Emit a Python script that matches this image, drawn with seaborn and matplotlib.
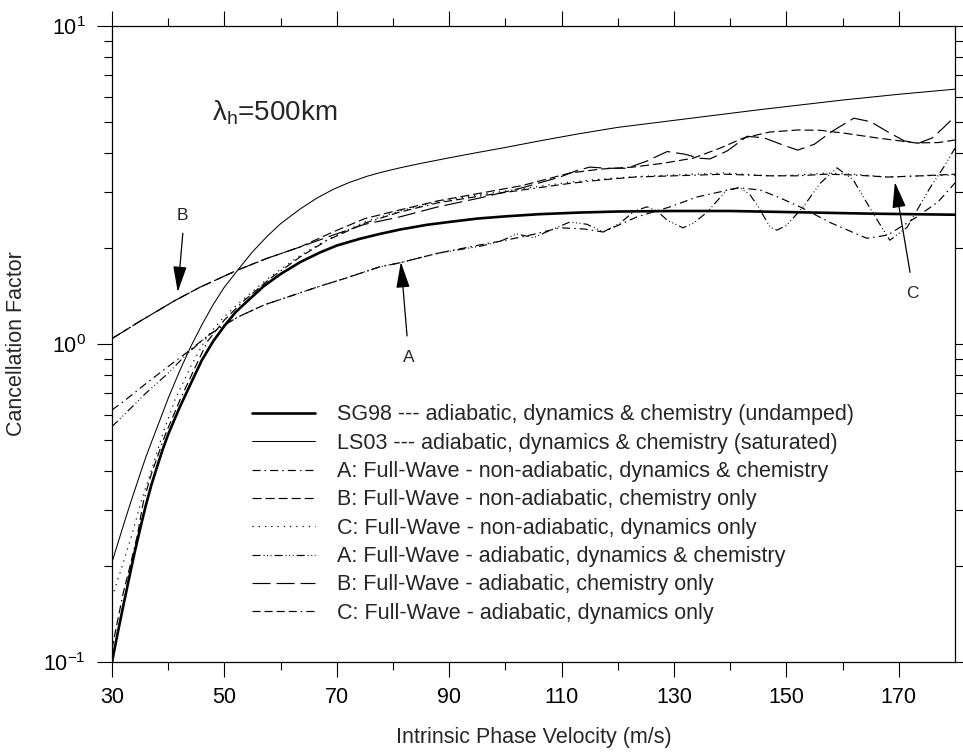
import matplotlib
matplotlib.use("Agg")
import matplotlib.pyplot as plt
from matplotlib.ticker import FixedLocator, LogLocator, NullFormatter
import seaborn as sns

# ---- curves: intrinsic phase velocity (m/s) vs cancellation factor ----
SG98_V = [30, 31, 32, 33, 34, 35, 36, 37, 38, 39, 40, 42, 44, 46, 48, 50, 52, 54.4, 57, 60,
          63.5, 67, 70, 74, 77.7, 81.2, 86, 90, 95, 100, 106, 113, 120, 130, 140, 150, 165, 180]
SG98 = [0.100, 0.123, 0.150, 0.182, 0.220, 0.262, 0.310, 0.360, 0.410, 0.465, 0.520, 0.630,
        0.750, 0.890, 1.02, 1.14, 1.26, 1.38, 1.52, 1.66, 1.81, 1.94, 2.04, 2.14, 2.22, 2.29,
        2.37, 2.42, 2.48, 2.52, 2.56, 2.59, 2.61, 2.62, 2.62, 2.60, 2.57, 2.55]

LS03_V = [30, 31, 32, 33, 34, 35, 36, 37, 38, 40, 42, 44, 46, 48, 50, 52.4, 55, 57.6, 60,
          63.5, 66.5, 69.3, 72, 75.4, 78, 81.2, 85, 90, 95, 100, 106, 113, 120, 130, 145,
          160, 170, 180]
LS03 = [0.206, 0.235, 0.268, 0.305, 0.345, 0.390, 0.440, 0.490, 0.545, 0.675, 0.82, 0.98,
        1.15, 1.33, 1.51, 1.71, 1.95, 2.18, 2.39, 2.66, 2.88, 3.06, 3.21, 3.37, 3.47, 3.58,
        3.70, 3.85, 4.00, 4.15, 4.35, 4.58, 4.80, 5.05, 5.45, 5.85, 6.10, 6.33]

A_NA_V = [30, 33, 36, 40, 43.3, 47, 50, 53, 57.2, 61, 66.5, 72, 77.7, 81.2, 88, 95.5, 100,
          104.4, 109.7, 114, 117.4, 123.4, 129.3, 134.1, 141.5, 145.3, 148.5, 152.4, 158,
          164.3, 168, 173.2, 177, 180]
A_NA = [0.62, 0.68, 0.75, 0.85, 0.94, 1.06, 1.15, 1.23, 1.33, 1.40, 1.51, 1.62, 1.75, 1.80,
        1.93, 2.05, 2.12, 2.20, 2.32, 2.30, 2.25, 2.51, 2.70, 2.90, 3.10, 3.05, 2.90, 2.70,
        2.40, 2.15, 2.20, 2.51, 2.80, 3.21]

B_NA_V = [30, 35, 41.2, 45.7, 52.4, 57.6, 63.5, 69.3, 75, 81.2, 88, 95.5, 103, 111.5, 117,
          122.7, 128, 133.4, 138.2, 142.3, 147, 152, 156, 160, 166, 173, 177, 180]
B_NA = [1.04, 1.18, 1.37, 1.51, 1.71, 1.86, 2.02, 2.25, 2.48, 2.64, 2.82, 2.98, 3.15, 3.45,
        3.55, 3.60, 3.70, 3.84, 4.13, 4.44, 4.64, 4.71, 4.70, 4.61, 4.45, 4.29, 4.30, 4.38]

C_NA_V = [30, 32, 33.5, 35.2, 37, 39, 41.2, 44, 47, 50, 53.3, 58, 63.5, 68.3, 75, 81.2, 88,
          95.5, 103, 111.5, 117, 123, 130, 139, 147, 152, 157, 162, 168, 174, 180]
C_NA = [0.16, 0.205, 0.25, 0.32, 0.40, 0.52, 0.667, 0.85, 1.06, 1.22, 1.38, 1.62, 1.90, 2.13,
        2.42, 2.62, 2.80, 2.95, 3.08, 3.23, 3.30, 3.36, 3.40, 3.45, 3.38, 3.40, 3.45, 3.42,
        3.35, 3.38, 3.40]

A_AD_V = [30, 33, 36, 40, 43.3, 47, 50, 53, 57.2, 61, 66.5, 72, 77.7, 81.2, 88, 95.5, 99,
          102, 105, 108, 111.5, 114.5, 117.4, 120.4, 123, 125.2, 127, 128.8, 131.6, 133.5,
          135.9, 139.4, 141.7, 143.5, 145, 147.1, 148.3, 150, 153, 156, 159, 161.9, 165.4,
          168.4, 171.5, 175.6, 178, 180]
A_AD = [0.55, 0.62, 0.70, 0.81, 0.93, 1.06, 1.15, 1.23, 1.33, 1.40, 1.51, 1.62, 1.75, 1.80,
        1.93, 2.03, 2.10, 2.22, 2.16, 2.28, 2.42, 2.38, 2.25, 2.40, 2.62, 2.70, 2.62, 2.45,
        2.32, 2.40, 2.60, 3.05, 3.10, 2.95, 2.70, 2.33, 2.28, 2.36, 2.70, 3.20, 3.58, 3.28,
        2.58, 2.12, 2.33, 3.11, 3.60, 4.13]

B_AD_V = [30, 35, 41.2, 45.7, 52.4, 57.6, 63.5, 69.3, 75, 81.2, 88, 95.5, 103, 109.7, 112.5,
          115, 118, 121.6, 125, 128.8, 132, 134.5, 136.4, 139.5, 143, 146, 149, 152, 155,
          158, 162, 165, 168, 171, 173.5, 176, 178, 180]
B_AD = [1.04, 1.18, 1.37, 1.51, 1.71, 1.86, 2.02, 2.20, 2.38, 2.51, 2.70, 2.88, 3.10, 3.35,
        3.50, 3.60, 3.57, 3.57, 3.75, 4.03, 3.95, 3.84, 3.82, 4.05, 4.50, 4.45, 4.25, 4.07,
        4.25, 4.65, 5.13, 5.00, 4.65, 4.35, 4.28, 4.45, 4.80, 5.20]

C_AD_V = [30, 31, 32, 33.2, 34.5, 35.6, 37, 39.5, 42.1, 45, 47, 50, 53.3, 58, 63.5, 68.3, 75,
          81.2, 88, 95.5, 103, 111.5, 117, 123, 130, 139, 147, 152, 157, 162, 168, 174, 180]
C_AD = [0.11, 0.135, 0.165, 0.20, 0.25, 0.32, 0.39, 0.52, 0.667, 0.86, 1.02, 1.19, 1.36,
        1.60, 1.88, 2.12, 2.40, 2.60, 2.78, 2.92, 3.05, 3.20, 3.28, 3.35, 3.38, 3.42, 3.38,
        3.38, 3.42, 3.40, 3.35, 3.38, 3.42]

LABELS = [
    "SG98 --- adiabatic, dynamics & chemistry (undamped)",
    "LS03 --- adiabatic, dynamics & chemistry (saturated)",
    "A: Full-Wave - non-adiabatic, dynamics & chemistry",
    "B: Full-Wave - non-adiabatic, chemistry only",
    "C: Full-Wave - non-adiabatic, dynamics only",
    "A: Full-Wave - adiabatic, dynamics & chemistry",
    "B: Full-Wave - adiabatic, chemistry only",
    "C: Full-Wave - adiabatic, dynamics only",
]

X_TICKS = [30, 50, 70, 90, 110, 130, 150, 170]
X_MINOR = [40, 60, 80, 100, 120, 140, 160]

sns.set_style("ticks")
plt.rcParams.update({
    "font.family": ["Liberation Sans", "DejaVu Sans"],
    "mathtext.fontset": "custom",
    "mathtext.rm": "Liberation Sans",
    "mathtext.it": "Liberation Sans:italic",
    "mathtext.bf": "Liberation Sans:bold",
    "axes.unicode_minus": False,
    "lines.scale_dashes": False,
    "axes.linewidth": 0.9,
    "axes.edgecolor": "black",
    "xtick.color": "black",
    "ytick.color": "black",
})

FS = 15.5

fig = plt.figure(figsize=(9.63, 7.56), dpi=100)
ax = fig.add_axes([0.1163, 0.1243, 0.8754, 0.8413])

styles = [
    (SG98_V, SG98, 1.9, "-"),
    (LS03_V, LS03, 0.75, "-"),
    (A_NA_V, A_NA, 0.85, (0, (5.8, 2.9, 1.1, 2.9))),
    (B_NA_V, B_NA, 0.85, (0, (6.5, 2.9))),
    (C_NA_V, C_NA, 0.85, (0, (0.9, 3.6))),
    (A_AD_V, A_AD, 0.85, (0, (5.8, 2.2, 0.7, 1.8, 0.7, 1.8, 0.7, 2.2))),
    (B_AD_V, B_AD, 0.85, (0, (13.0, 4.3))),
    (C_AD_V, C_AD, 0.85, (0, (5.8, 2.9, 5.8, 2.9, 5.8, 2.9, 5.8, 2.9, 1.1, 2.9))),
]
for (v, f, lw, ls), lab in zip(styles, LABELS):
    sns.lineplot(x=v, y=f, ax=ax, estimator=None, sort=False, color="black",
                 linewidth=lw, linestyle=ls, label=lab)

ax.set_yscale("log")
ax.set_xlim(30, 180)
ax.set_ylim(0.1, 10)

ax.xaxis.set_major_locator(FixedLocator(X_TICKS))
ax.xaxis.set_minor_locator(FixedLocator(X_MINOR))
ax.yaxis.set_major_locator(LogLocator(base=10, numticks=10))
ax.yaxis.set_minor_locator(LogLocator(base=10, subs=range(2, 10), numticks=20))
ax.yaxis.set_minor_formatter(NullFormatter())

ax.tick_params(which="both", direction="out", top=True, right=True,
               labeltop=False, labelright=False, width=0.8, colors="black")
ax.tick_params(which="major", length=10.8, labelsize=FS)
ax.tick_params(axis="x", which="major", pad=7)
ax.tick_params(axis="y", which="major", pad=8)
ax.tick_params(which="minor", length=5.8)

ax.set_xlabel("Intrinsic Phase Velocity (m/s)", fontsize=FS, labelpad=14)
ax.set_ylabel("Cancellation Factor", fontsize=FS, labelpad=12)

ax.legend(loc="upper left", bbox_to_anchor=(0.166, 0.405), frameon=False, fontsize=FS,
          handlelength=2.95, handletextpad=1.0, labelspacing=0.34,
          borderpad=0, borderaxespad=0)

ax.text(0.1186, 0.863, "λ$_\\mathregular{h}$=500km", transform=ax.transAxes,
        fontsize=20, ha="left", va="center")

# arrows pointing at the curve families
arrow = dict(arrowstyle="-|>,head_length=1.6,head_width=0.42", color="black", lw=0.9,
             mutation_scale=10, shrinkA=0, shrinkB=0)
for letter, txt, tail, tip in [
    ("B", (42.6, 2.54), (42.6, 2.23), (41.7, 1.457)),
    ("A", (82.8, 0.91), (82.5, 1.06), (81.4, 1.81)),
    ("C", (172.5, 1.446), (172.0, 1.68), (169.3, 3.23)),
]:
    ax.annotate("", xy=tip, xytext=tail, arrowprops=arrow)
    ax.text(*txt, letter, fontsize=12.5, ha="center", va="center")

fig.savefig("out.png", dpi=100, facecolor="white")
